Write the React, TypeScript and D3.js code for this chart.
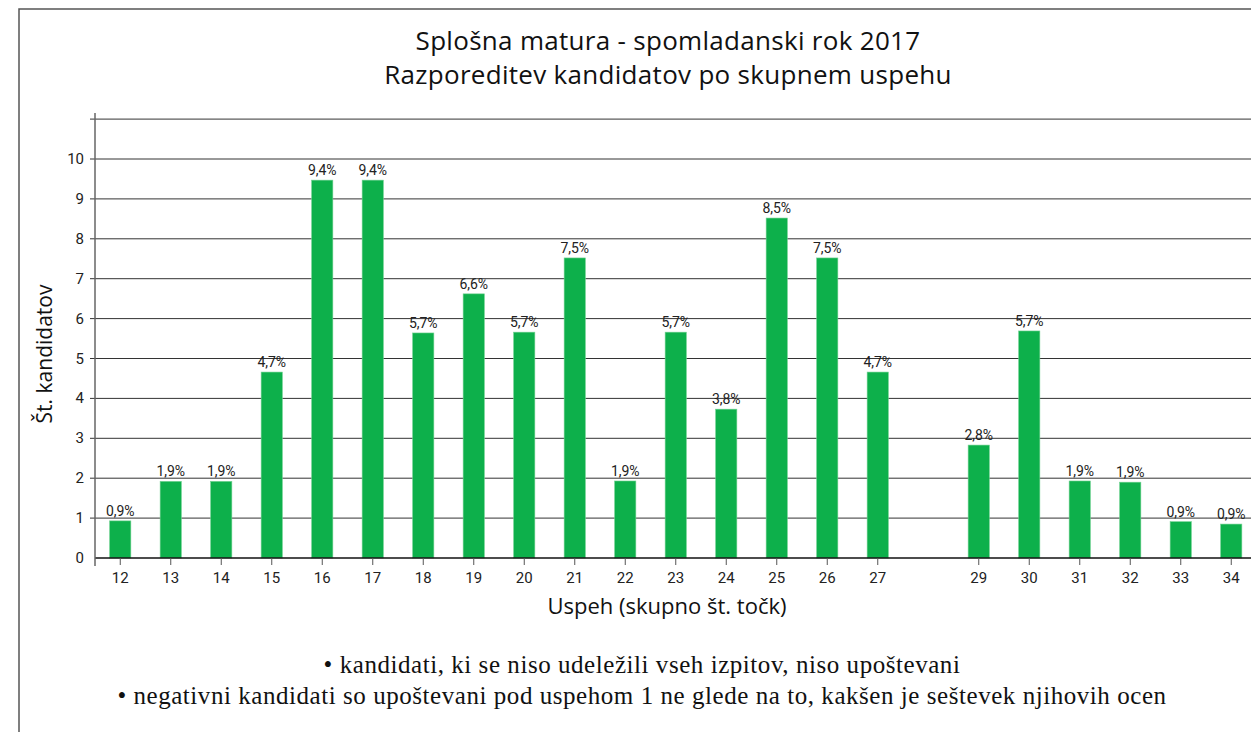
import React, { useEffect, useRef } from 'react';
import * as d3 from 'd3';

// Data
const scores = [12, 13, 14, 15, 16, 17, 18, 19, 20, 21, 22, 23, 24, 25, 26, 27, 28, 29, 30, 31, 32, 33, 34];
const heights = [0.93, 1.92, 1.92, 4.66, 9.47, 9.47, 5.64, 6.62, 5.66, 7.52, 1.93, 5.66, 3.73, 8.52, 7.52, 4.66, null, 2.83, 5.69, 1.93, 1.9, 0.91, 0.85];
const shares = ['0,9%', '1,9%', '1,9%', '4,7%', '9,4%', '9,4%', '5,7%', '6,6%', '5,7%', '7,5%', '1,9%', '5,7%', '3,8%', '8,5%', '7,5%', '4,7%', '', '2,8%', '5,7%', '1,9%', '1,9%', '0,9%', '0,9%'];
const yTicks = [0, 1, 2, 3, 4, 5, 6, 7, 8, 9, 10];
const gridValues = [1, 2, 3, 4, 5, 6, 7, 8, 9, 10, 11];
const notes = [
    '• kandidati, ki se niso udeležili vseh izpitov, niso upoštevani',
    '• negativni kandidati so upoštevani pod uspehom 1 ne glede na to, kakšen je seštevek njihovih ocen',
];

const App = () => {
    const svgRef = useRef<SVGSVGElement>(null);

    useEffect(() => {
        const width = 1251;
        const height = 732;
        const axisX = 95;
        const narrow = 'Roboto, "Noto Sans", sans-serif';

        const svg = d3.select(svgRef.current)
            .attr('width', width)
            .attr('height', height);
        svg.selectAll('*').remove();

        svg.append('rect').attr('width', width).attr('height', height).attr('fill', '#fff');

        // frame (cut off at right/bottom)
        svg.append('rect')
            .attr('x', 19).attr('y', 9)
            .attr('width', 1300).attr('height', 800)
            .attr('fill', 'none').attr('stroke', '#555').attr('stroke-width', 1.5);

        // Scales
        const x = d3.scaleBand<number>()
            .domain(scores)
            .range([axisX, axisX + 23 * 50.5])
            .paddingInner(0.58)
            .paddingOuter(0.29);

        const y = d3.scaleLinear()
            .domain([0, 10])
            .range([558, 159]);

        // Gridlines
        svg.append('g')
            .selectAll('line')
            .data(gridValues)
            .join('line')
            .attr('x1', axisX - 5).attr('x2', width)
            .attr('y1', d => y(d)).attr('y2', d => y(d))
            .attr('stroke', '#333').attr('stroke-width', 1);

        // Bars
        const rows = scores.map((s, i) => ({ s, v: heights[i], label: shares[i] })).filter(d => d.v != null);
        svg.append('g')
            .selectAll('rect')
            .data(rows)
            .join('rect')
            .attr('x', d => x(d.s)!)
            .attr('y', d => y(d.v as number))
            .attr('width', x.bandwidth())
            .attr('height', d => y(0) - y(d.v as number))
            .attr('fill', '#0db04b')
            .attr('stroke', '#6fd08f').attr('stroke-width', 0.6);

        // Value labels
        svg.append('g')
            .selectAll('text')
            .data(rows)
            .join('text')
            .attr('x', d => x(d.s)! + x.bandwidth() / 2)
            .attr('y', d => y(d.v as number) - 5)
            .attr('text-anchor', 'middle')
            .style('font-family', narrow)
            .style('font-size', '14px')
            .attr('fill', '#222')
            .text(d => d.label);

        // X axis
        const xAxis = svg.append('g').attr('transform', `translate(0,${y(0)})`);
        xAxis.append('line')
            .attr('x1', axisX).attr('x2', width)
            .attr('stroke', '#111').attr('stroke-width', 1.5);
        const labelled = scores.filter((_, i) => heights[i] != null);
        xAxis.selectAll('line.tick')
            .data(labelled)
            .join('line')
            .attr('class', 'tick')
            .attr('x1', d => x(d)! + x.bandwidth() / 2)
            .attr('x2', d => x(d)! + x.bandwidth() / 2)
            .attr('y1', 0).attr('y2', 7)
            .attr('stroke', '#555');
        xAxis.selectAll('text')
            .data(labelled)
            .join('text')
            .attr('x', d => x(d)! + x.bandwidth() / 2)
            .attr('y', 25)
            .attr('text-anchor', 'middle')
            .style('font-family', narrow)
            .style('font-size', '15px')
            .attr('fill', '#222')
            .text(d => d);

        // Y axis
        const yAxis = svg.append('g');
        yAxis.append('line')
            .attr('x1', axisX).attr('x2', axisX)
            .attr('y1', 113).attr('y2', y(0) + 8)
            .attr('stroke', '#666').attr('stroke-width', 1.5);
        yAxis.selectAll('text')
            .data(yTicks)
            .join('text')
            .attr('x', 84)
            .attr('y', d => y(d) + 5)
            .attr('text-anchor', 'end')
            .style('font-family', narrow)
            .style('font-size', '15px')
            .attr('fill', '#222')
            .text(d => d);

        // Titles
        const sans = '"Open Sans", "Noto Sans", sans-serif';
        svg.append('text')
            .attr('x', 668).attr('y', 50)
            .attr('text-anchor', 'middle')
            .style('font-family', sans).style('font-size', '26px')
            .style('letter-spacing', '0.3px')
            .attr('fill', '#111')
            .text('Splošna matura - spomladanski rok 2017');
        svg.append('text')
            .attr('x', 668).attr('y', 84)
            .attr('text-anchor', 'middle')
            .style('font-family', sans).style('font-size', '26px')
            .style('letter-spacing', '0.3px')
            .attr('fill', '#111')
            .text('Razporeditev kandidatov po skupnem uspehu');

        svg.append('text')
            .attr('x', 667).attr('y', 614)
            .attr('text-anchor', 'middle')
            .style('font-family', sans).style('font-size', '22px')
            .attr('fill', '#111')
            .text('Uspeh (skupno št. točk)');

        svg.append('text')
            .attr('transform', 'translate(52,354) rotate(-90)')
            .attr('text-anchor', 'middle')
            .style('font-family', sans).style('font-size', '21px')
            .attr('fill', '#111')
            .text('Št. kandidatov');

        // Footnotes
        svg.append('g')
            .selectAll('text')
            .data(notes)
            .join('text')
            .attr('x', 642)
            .attr('y', (_, i) => 673 + i * 31)
            .attr('text-anchor', 'middle')
            .style('font-family', '"Liberation Serif", "DejaVu Serif", serif')
            .style('font-size', '25px')
            .style('letter-spacing', '0.55px')
            .attr('fill', '#111')
            .text(d => d);
    }, []);

    return (
        <svg ref={svgRef} style={{ position: 'absolute', left: 0, top: 0, display: 'block' }}></svg>
    );
};

export default App;
